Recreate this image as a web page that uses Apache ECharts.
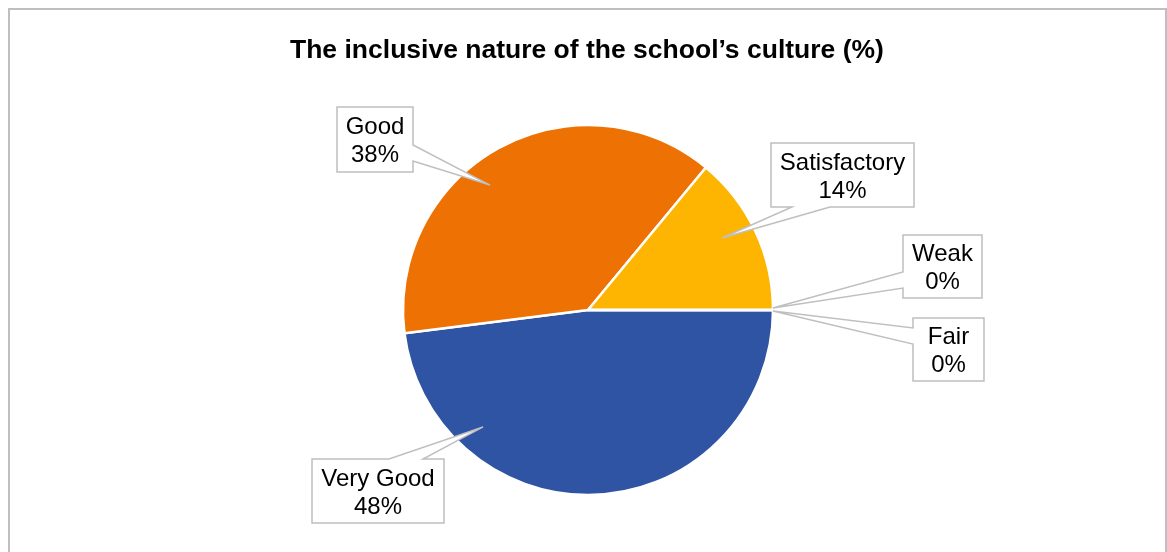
<!DOCTYPE html>
<html><head><meta charset="utf-8">
<script src="https://cdn.jsdelivr.net/npm/echarts@6/dist/echarts.min.js"></script>
<style>html,body{margin:0;padding:0;background:#fff}#c{width:1167px;height:552px}</style>
</head><body><div id="c"></div>
<script>
// ---- data ----
const chartTitle = 'The inclusive nature of the school’s culture (%)';
const categories = ['Very Good', 'Good', 'Satisfactory', 'Weak', 'Fair'];
const values = [48, 38, 14, 0, 0];

// ---- styles / layout ----
const colors = ['#2F54A3', '#EE7203', '#FDB501', '#A5A5A5', '#5B9BD5'];
const FONT = 'Liberation Sans, Arial, sans-serif';
const CX = 588, CY = 310, R = 185, RV = 184;
// callout boxes [x1,y1,x2,y2]
const boxes = [[312,459,444,523],[337,107,413,172],[771,143,914,207],[903,235,982,298],[913,318,984,381]];
// wedge: edge of box, base range along that edge, tip in polar (deg clockwise from east, fraction of radius)
const wedges = [
  {edge:'top', a:389, b:423, ang:131.9, rf:0.854},
  {edge:'right', a:145, b:161, ang:-128.1, rf:0.863},
  {edge:'bottom', a:792, b:830, ang:-28.25, rf:0.827},
  {edge:'left', a:272, b:288, ang:-0.6, rf:1.005},
  {edge:'left', a:328, b:344, ang:0.3, rf:1.005}
];

function calloutPoints(i) {
  const [x1,y1,x2,y2] = boxes[i];
  const w = wedges[i];
  const t = [CX + RV*w.rf*Math.cos(w.ang*Math.PI/180), CY + RV*w.rf*Math.sin(w.ang*Math.PI/180)];
  if (w.edge === 'right') return [[x1,y1],[x2,y1],[x2,w.a],t,[x2,w.b],[x2,y2],[x1,y2]];
  if (w.edge === 'bottom') return [[x1,y1],[x2,y1],[x2,y2],[w.b,y2],t,[w.a,y2],[x1,y2]];
  if (w.edge === 'left') return [[x1,y1],[x2,y1],[x2,y2],[x1,y2],[x1,w.b],t,[x1,w.a]];
  return [[x1,y1],[w.a,y1],t,[w.b,y1],[x2,y1],[x2,y2],[x1,y2]];
}

const pieData = categories.map((c, i) => ({name: c, value: values[i], itemStyle: {color: colors[i]}}));

const graphics = [{
  type: 'rect', shape: {x: 9, y: 9, width: 1157, height: 560},
  style: {fill: 'none', stroke: '#BFBFBF', lineWidth: 2}, z: 0, silent: true
}];
categories.forEach((c, i) => {
  graphics.push({
    type: 'polygon', shape: {points: calloutPoints(i)},
    style: {fill: '#FFFFFF', stroke: '#BFBFBF', lineWidth: 1.5, lineJoin: 'miter'}, z: 5, silent: true
  });
});

const chart = echarts.init(document.getElementById('c'), null, {renderer: 'canvas'});
chart.setOption({
  animation: false,
  backgroundColor: '#FFFFFF',
  title: {
    text: chartTitle, left: 285, top: 32,
    textStyle: {fontFamily: FONT, fontSize: 26.5, fontWeight: 'bold', color: '#000'}
  },
  graphic: graphics,
  series: [
    {
      type: 'pie', z: 2, center: [CX, CY], radius: R, startAngle: 0, clockwise: true,
      avoidLabelOverlap: false, silent: true, emphasis: {disabled: true},
      itemStyle: {borderColor: '#FFFFFF', borderWidth: 2.5},
      label: {show: false}, labelLine: {show: false},
      data: pieData
    },
    {
      type: 'pie', z: 10, center: [CX, CY], radius: R, startAngle: 0, clockwise: true,
      avoidLabelOverlap: false, silent: true, emphasis: {disabled: true}, percentPrecision: 0,
      itemStyle: {color: 'rgba(0,0,0,0)', borderWidth: 0},
      label: {
        show: true, position: 'outside', formatter: '{b}\n{d}%',
        fontFamily: FONT, fontSize: 24, lineHeight: 28, color: '#000', align: 'center'
      },
      labelLine: {show: false},
      labelLayout: function (p) {
        const b = boxes[p.dataIndex];
        return {x: (b[0] + b[2]) / 2, y: (b[1] + b[3]) / 2 + 2, align: 'center', verticalAlign: 'middle'};
      },
      data: categories.map((c, i) => ({name: c, value: values[i]}))
    }
  ]
});
</script>
</body></html>
